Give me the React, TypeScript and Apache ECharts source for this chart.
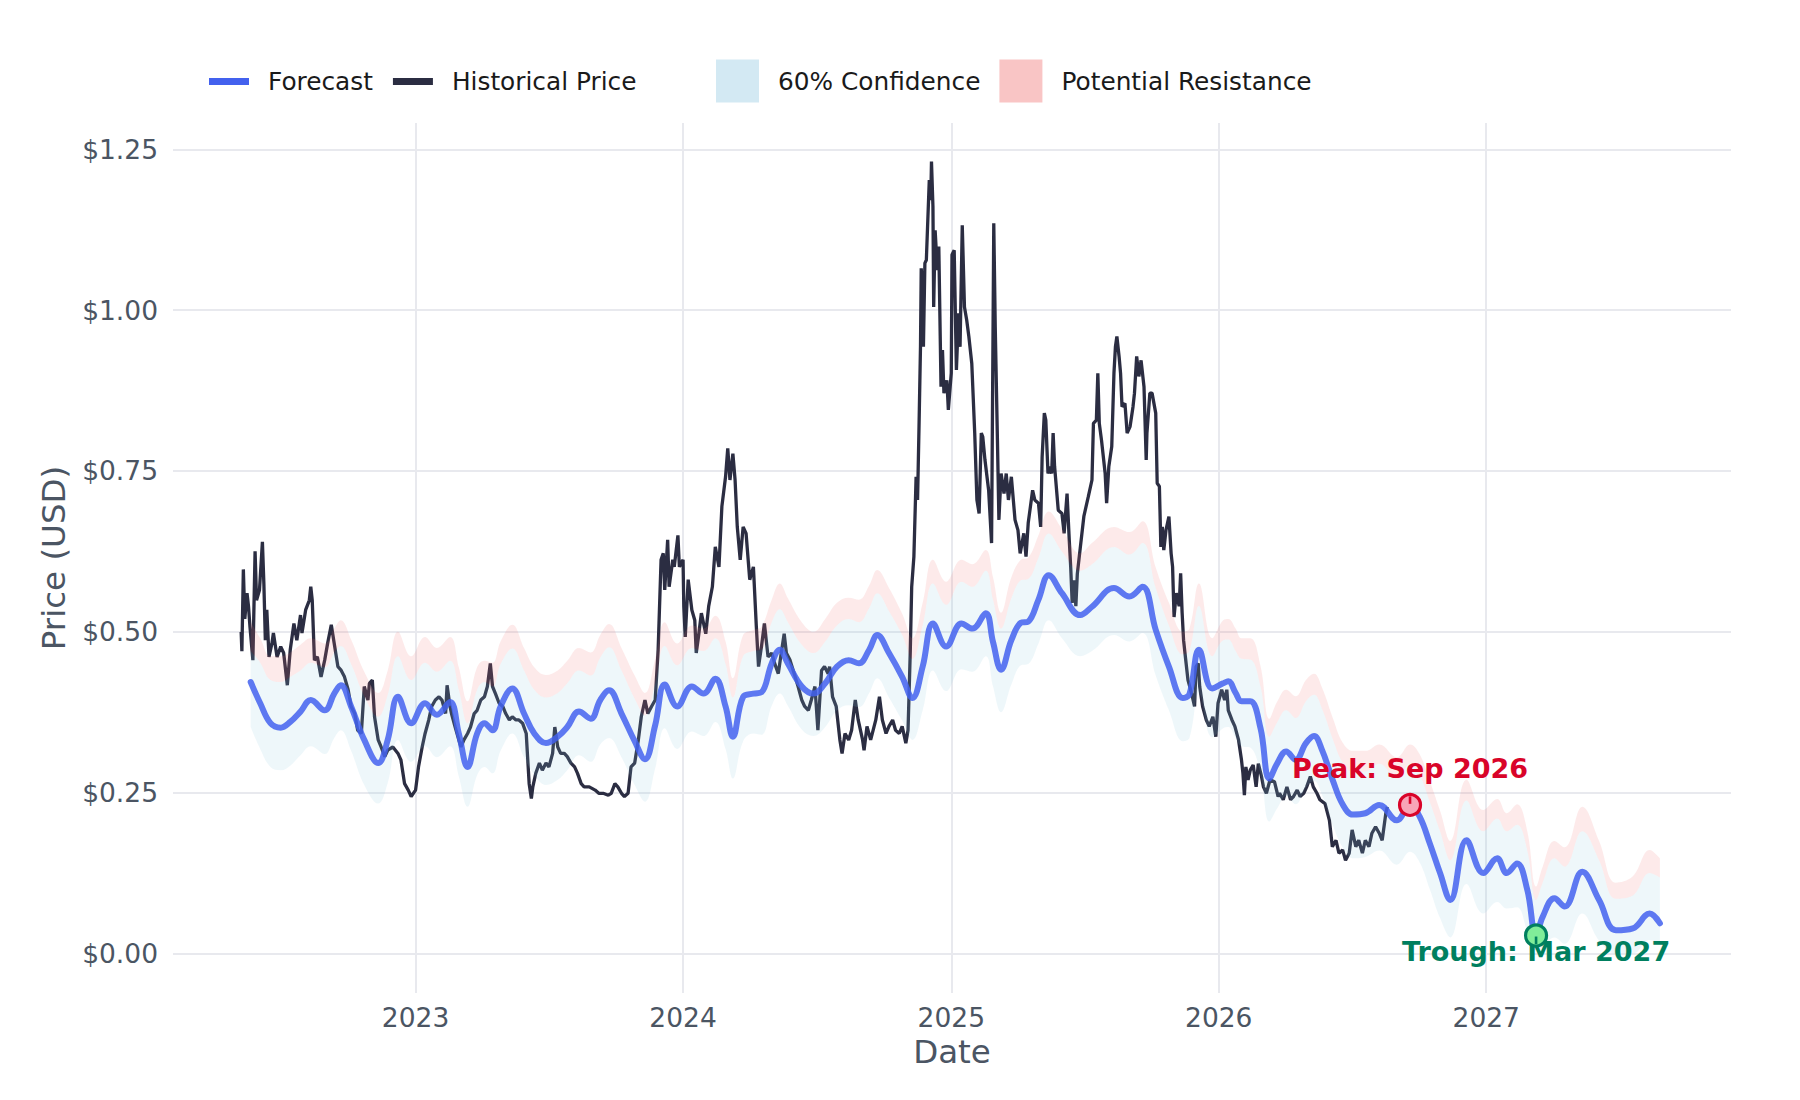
import React, { useEffect, useRef } from 'react';
import * as echarts from 'echarts';

const HISTORICAL: [string, number][] = [
  ['2022-05-08', 0.50], ['2022-05-09', 0.47], ['2022-05-11', 0.597], ['2022-05-13', 0.52], ['2022-05-16', 0.56],
  ['2022-05-18', 0.54], ['2022-05-20', 0.508], ['2022-05-24', 0.456], ['2022-05-27', 0.625], ['2022-05-29', 0.549],
  ['2022-06-02', 0.565], ['2022-06-06', 0.64], ['2022-06-08', 0.575], ['2022-06-10', 0.487], ['2022-06-12', 0.534],
  ['2022-06-15', 0.461], ['2022-06-19', 0.482], ['2022-06-21', 0.498], ['2022-06-26', 0.461], ['2022-07-01', 0.477],
  ['2022-07-05', 0.467], ['2022-07-10', 0.417], ['2022-07-14', 0.472], ['2022-07-19', 0.513], ['2022-07-23', 0.487],
  ['2022-07-28', 0.526], ['2022-07-30', 0.498], ['2022-08-04', 0.534], ['2022-08-09', 0.549], ['2022-08-11', 0.57],
  ['2022-08-13', 0.549], ['2022-08-16', 0.456], ['2022-08-20', 0.461], ['2022-08-25', 0.43], ['2022-08-30', 0.456],
  ['2022-09-03', 0.482], ['2022-09-08', 0.511], ['2022-09-12', 0.482], ['2022-09-17', 0.446], ['2022-09-21', 0.441],
  ['2022-09-26', 0.43], ['2022-10-01', 0.41], ['2022-10-05', 0.384], ['2022-10-10', 0.373], ['2022-10-14', 0.347],
  ['2022-10-19', 0.342], ['2022-10-23', 0.415], ['2022-10-28', 0.394], ['2022-10-30', 0.42], ['2022-11-03', 0.425],
  ['2022-11-06', 0.368], ['2022-11-11', 0.332], ['2022-11-15', 0.321], ['2022-11-20', 0.306], ['2022-11-24', 0.316],
  ['2022-12-01', 0.321], ['2022-12-08', 0.311], ['2022-12-12', 0.301], ['2022-12-17', 0.264], ['2022-12-22', 0.254],
  ['2022-12-26', 0.244], ['2023-01-01', 0.254], ['2023-01-05', 0.29], ['2023-01-10', 0.321], ['2023-01-14', 0.342],
  ['2023-01-19', 0.363], ['2023-01-23', 0.384], ['2023-01-28', 0.394], ['2023-02-02', 0.399], ['2023-02-06', 0.394],
  ['2023-02-11', 0.373], ['2023-02-13', 0.417], ['2023-02-17', 0.384], ['2023-02-19', 0.373], ['2023-02-24', 0.352],
  ['2023-03-01', 0.332], ['2023-03-04', 0.321], ['2023-03-08', 0.332], ['2023-03-13', 0.342], ['2023-03-17', 0.352],
  ['2023-03-22', 0.373], ['2023-03-26', 0.378], ['2023-03-31', 0.394], ['2023-04-05', 0.399], ['2023-04-09', 0.415],
  ['2023-04-13', 0.451], ['2023-04-16', 0.415], ['2023-04-20', 0.404], ['2023-04-25', 0.389], ['2023-04-30', 0.384],
  ['2023-05-04', 0.373], ['2023-05-09', 0.363], ['2023-05-13', 0.368], ['2023-05-18', 0.363], ['2023-05-22', 0.363],
  ['2023-05-27', 0.358], ['2023-06-01', 0.342], ['2023-06-05', 0.264], ['2023-06-08', 0.241], ['2023-06-10', 0.259],
  ['2023-06-14', 0.28], ['2023-06-19', 0.296], ['2023-06-23', 0.285], ['2023-06-28', 0.296], ['2023-07-02', 0.29],
  ['2023-07-07', 0.311], ['2023-07-10', 0.352], ['2023-07-14', 0.321], ['2023-07-18', 0.311], ['2023-07-23', 0.311],
  ['2023-07-27', 0.306], ['2023-08-01', 0.296], ['2023-08-06', 0.29], ['2023-08-10', 0.28], ['2023-08-15', 0.264],
  ['2023-08-19', 0.259], ['2023-08-26', 0.259], ['2023-09-03', 0.254], ['2023-09-08', 0.249], ['2023-09-14', 0.249],
  ['2023-09-21', 0.246], ['2023-09-25', 0.249], ['2023-09-30', 0.264], ['2023-10-04', 0.259], ['2023-10-09', 0.249],
  ['2023-10-13', 0.244], ['2023-10-18', 0.249], ['2023-10-22', 0.29], ['2023-10-27', 0.296], ['2023-11-01', 0.332],
  ['2023-11-05', 0.368], ['2023-11-10', 0.394], ['2023-11-14', 0.373], ['2023-11-19', 0.384], ['2023-11-24', 0.394],
  ['2023-11-28', 0.472], ['2023-12-02', 0.612], ['2023-12-05', 0.622], ['2023-12-07', 0.565], ['2023-12-11', 0.643],
  ['2023-12-13', 0.57], ['2023-12-18', 0.612], ['2023-12-20', 0.601], ['2023-12-25', 0.65], ['2023-12-27', 0.601],
  ['2024-01-01', 0.612], ['2024-01-02', 0.54], ['2024-01-04', 0.492], ['2024-01-08', 0.581], ['2024-01-13', 0.534],
  ['2024-01-17', 0.518], ['2024-01-19', 0.467], ['2024-01-22', 0.492], ['2024-01-26', 0.529], ['2024-02-01', 0.497],
  ['2024-02-05', 0.54], ['2024-02-10', 0.57], ['2024-02-14', 0.632], ['2024-02-19', 0.601], ['2024-02-23', 0.695],
  ['2024-02-28', 0.741], ['2024-03-02', 0.785], ['2024-03-05', 0.736], ['2024-03-09', 0.777], ['2024-03-12', 0.736],
  ['2024-03-15', 0.663], ['2024-03-19', 0.612], ['2024-03-23', 0.663], ['2024-03-27', 0.653], ['2024-04-01', 0.581],
  ['2024-04-06', 0.601], ['2024-04-10', 0.508], ['2024-04-13', 0.446], ['2024-04-17', 0.477], ['2024-04-21', 0.513],
  ['2024-04-26', 0.461], ['2024-05-01', 0.467], ['2024-05-05', 0.451], ['2024-05-10', 0.435], ['2024-05-14', 0.467],
  ['2024-05-18', 0.497], ['2024-05-21', 0.467], ['2024-05-26', 0.456], ['2024-06-02', 0.43], ['2024-06-06', 0.415],
  ['2024-06-11', 0.394], ['2024-06-15', 0.384], ['2024-06-20', 0.378], ['2024-06-24', 0.394], ['2024-06-29', 0.415],
  ['2024-07-03', 0.347], ['2024-07-08', 0.44], ['2024-07-12', 0.446], ['2024-07-17', 0.435], ['2024-07-19', 0.446],
  ['2024-07-23', 0.399], ['2024-07-28', 0.384], ['2024-08-02', 0.332], ['2024-08-05', 0.311], ['2024-08-09', 0.342],
  ['2024-08-14', 0.332], ['2024-08-18', 0.347], ['2024-08-23', 0.394], ['2024-08-27', 0.363], ['2024-09-02', 0.332],
  ['2024-09-04', 0.316], ['2024-09-08', 0.353], ['2024-09-13', 0.332], ['2024-09-20', 0.363], ['2024-09-25', 0.399],
  ['2024-09-29', 0.363], ['2024-10-04', 0.342], ['2024-10-08', 0.353], ['2024-10-13', 0.363], ['2024-10-17', 0.347],
  ['2024-10-22', 0.342], ['2024-10-26', 0.353], ['2024-10-31', 0.327], ['2024-11-03', 0.347], ['2024-11-06', 0.467],
  ['2024-11-08', 0.57], ['2024-11-11', 0.617], ['2024-11-14', 0.741], ['2024-11-16', 0.705], ['2024-11-18', 0.819],
  ['2024-11-20', 0.943], ['2024-11-21', 1.065], ['2024-11-23', 1.031], ['2024-11-24', 0.943], ['2024-11-26', 1.073],
  ['2024-11-28', 1.078], ['2024-12-02', 1.202], ['2024-12-04', 1.171], ['2024-12-05', 1.231], ['2024-12-07', 1.161],
  ['2024-12-08', 1.005], ['2024-12-10', 1.124], ['2024-12-13', 1.062], ['2024-12-15', 1.099], ['2024-12-17', 0.954],
  ['2024-12-18', 0.881], ['2024-12-20', 0.938], ['2024-12-22', 0.871], ['2024-12-26', 0.891], ['2024-12-28', 0.845],
  ['2025-01-01', 0.902], ['2025-01-02', 1.086], ['2025-01-05', 1.093], ['2025-01-08', 0.907], ['2025-01-11', 0.995],
  ['2025-01-13', 0.943], ['2025-01-16', 1.132], ['2025-01-19', 1.005], ['2025-01-22', 0.985], ['2025-01-25', 0.959],
  ['2025-01-29', 0.917], ['2025-02-02', 0.809], ['2025-02-05', 0.705], ['2025-02-08', 0.684], ['2025-02-11', 0.809],
  ['2025-02-13', 0.803], ['2025-02-16', 0.767], ['2025-02-21', 0.72], ['2025-02-25', 0.638], ['2025-02-28', 1.135],
  ['2025-03-02', 0.974], ['2025-03-05', 0.798], ['2025-03-07', 0.674], ['2025-03-10', 0.746], ['2025-03-14', 0.715],
  ['2025-03-17', 0.746], ['2025-03-20', 0.705], ['2025-03-24', 0.741], ['2025-03-29', 0.674], ['2025-04-02', 0.658],
  ['2025-04-05', 0.622], ['2025-04-10', 0.653], ['2025-04-13', 0.617], ['2025-04-16', 0.669], ['2025-04-22', 0.72],
  ['2025-04-25', 0.705], ['2025-04-30', 0.70], ['2025-05-03', 0.663], ['2025-05-05', 0.772], ['2025-05-08', 0.84],
  ['2025-05-10', 0.829], ['2025-05-13', 0.746], ['2025-05-15', 0.757], ['2025-05-18', 0.746], ['2025-05-20', 0.809],
  ['2025-05-22', 0.757], ['2025-05-27', 0.689], ['2025-06-01', 0.684], ['2025-06-04', 0.653], ['2025-06-08', 0.715],
  ['2025-06-11', 0.643], ['2025-06-13', 0.60], ['2025-06-15', 0.545], ['2025-06-18', 0.58], ['2025-06-20', 0.54],
  ['2025-06-22', 0.59], ['2025-06-26', 0.63], ['2025-07-01', 0.68], ['2025-07-07', 0.71], ['2025-07-12', 0.736],
  ['2025-07-14', 0.824], ['2025-07-18', 0.829], ['2025-07-20', 0.902], ['2025-07-22', 0.824], ['2025-07-25', 0.798],
  ['2025-07-30', 0.746], ['2025-08-01', 0.70], ['2025-08-04', 0.757], ['2025-08-08', 0.788], ['2025-08-11', 0.902],
  ['2025-08-13', 0.943], ['2025-08-15', 0.959], ['2025-08-18', 0.928], ['2025-08-20', 0.902], ['2025-08-22', 0.85],
  ['2025-08-26', 0.855], ['2025-08-29', 0.809], ['2025-09-02', 0.819], ['2025-09-06', 0.85], ['2025-09-08', 0.871],
  ['2025-09-11', 0.928], ['2025-09-14', 0.897], ['2025-09-17', 0.922], ['2025-09-21', 0.881], ['2025-09-24', 0.767],
  ['2025-09-25', 0.809], ['2025-09-29', 0.871], ['2025-10-02', 0.871], ['2025-10-07', 0.84], ['2025-10-09', 0.731],
  ['2025-10-12', 0.726], ['2025-10-14', 0.632], ['2025-10-16', 0.663], ['2025-10-18', 0.627], ['2025-10-21', 0.658],
  ['2025-10-25', 0.679], ['2025-10-28', 0.622], ['2025-10-30', 0.601], ['2025-11-01', 0.523], ['2025-11-04', 0.56],
  ['2025-11-08', 0.54], ['2025-11-10', 0.591], ['2025-11-12', 0.53], ['2025-11-14', 0.487], ['2025-11-16', 0.466],
  ['2025-11-20', 0.425], ['2025-11-25', 0.404], ['2025-11-29', 0.384], ['2025-12-01', 0.446], ['2025-12-04', 0.451],
  ['2025-12-06', 0.415], ['2025-12-10', 0.384], ['2025-12-15', 0.363], ['2025-12-19', 0.353], ['2025-12-24', 0.368],
  ['2025-12-28', 0.337], ['2025-12-31', 0.389], ['2026-01-05', 0.41], ['2026-01-09', 0.394], ['2026-01-12', 0.41],
  ['2026-01-14', 0.378], ['2026-01-19', 0.363], ['2026-01-23', 0.353], ['2026-01-28', 0.332], ['2026-02-01', 0.301],
  ['2026-02-03', 0.28], ['2026-02-05', 0.246], ['2026-02-07', 0.29], ['2026-02-10', 0.27], ['2026-02-13', 0.285],
  ['2026-02-17', 0.293], ['2026-02-21', 0.259], ['2026-02-24', 0.295], ['2026-02-28', 0.277], ['2026-03-03', 0.259],
  ['2026-03-07', 0.249], ['2026-03-12', 0.27], ['2026-03-18', 0.267], ['2026-03-23', 0.244], ['2026-03-25', 0.249],
  ['2026-03-30', 0.239], ['2026-04-04', 0.259], ['2026-04-09', 0.239], ['2026-04-13', 0.244], ['2026-04-18', 0.254],
  ['2026-04-22', 0.244], ['2026-04-27', 0.249], ['2026-05-01', 0.259], ['2026-05-06', 0.275], ['2026-05-10', 0.259],
  ['2026-05-15', 0.249], ['2026-05-19', 0.239], ['2026-05-26', 0.233], ['2026-06-01', 0.207], ['2026-06-05', 0.166],
  ['2026-06-10', 0.176], ['2026-06-14', 0.156], ['2026-06-19', 0.161], ['2026-06-23', 0.145], ['2026-06-28', 0.156],
  ['2026-07-02', 0.192], ['2026-07-07', 0.166], ['2026-07-11', 0.176], ['2026-07-16', 0.156], ['2026-07-20', 0.176],
  ['2026-07-25', 0.166], ['2026-07-29', 0.187], ['2026-08-03', 0.197], ['2026-08-08', 0.187], ['2026-08-12', 0.176],
  ['2026-08-17', 0.218], ['2026-08-19', 0.228],
];

const FORECAST_DATES: string[] = [
  '2022-05-21', '2022-06-03', '2022-06-17', '2022-07-01', '2022-07-14', '2022-07-28', '2022-08-11', '2022-08-30', '2022-09-12', '2022-09-21',
  '2022-10-05', '2022-10-23', '2022-11-11', '2022-11-24', '2022-12-08', '2022-12-26', '2023-01-14', '2023-01-30', '2023-02-17', '2023-03-01',
  '2023-03-13', '2023-03-26', '2023-04-05', '2023-04-16', '2023-04-27', '2023-05-13', '2023-05-29', '2023-06-12', '2023-06-28', '2023-07-14',
  '2023-07-27', '2023-08-12', '2023-08-28', '2023-09-10', '2023-09-22', '2023-10-09', '2023-10-27', '2023-11-10', '2023-11-24', '2023-12-07',
  '2023-12-24', '2024-01-13', '2024-01-29', '2024-02-14', '2024-02-28', '2024-03-09', '2024-03-23', '2024-04-06', '2024-04-17', '2024-05-01',
  '2024-05-12', '2024-05-23', '2024-06-11', '2024-06-27', '2024-07-13', '2024-07-29', '2024-08-14', '2024-08-28', '2024-09-11', '2024-09-22',
  '2024-10-08', '2024-10-26', '2024-11-09', '2024-11-23', '2024-12-07', '2024-12-25', '2025-01-15', '2025-01-30', '2025-02-17', '2025-02-27',
  '2025-03-10', '2025-03-24', '2025-04-06', '2025-04-16', '2025-04-30', '2025-05-14', '2025-06-01', '2025-06-26', '2025-07-12', '2025-08-11',
  '2025-09-01', '2025-09-19', '2025-10-07', '2025-10-25', '2025-11-13', '2025-11-22', '2025-12-05', '2025-12-23', '2026-01-07', '2026-01-14',
  '2026-01-24', '2026-02-01', '2026-02-13', '2026-02-27', '2026-03-11', '2026-03-22', '2026-04-03', '2026-04-16', '2026-04-30', '2026-05-11',
  '2026-05-22', '2026-06-06', '2026-06-19', '2026-07-03', '2026-07-20', '2026-08-08', '2026-09-01', '2026-09-19', '2026-10-02', '2026-10-16',
  '2026-10-30', '2026-11-13', '2026-12-05', '2026-12-28', '2027-01-16', '2027-01-29', '2027-02-12', '2027-02-26', '2027-03-10', '2027-03-19',
  '2027-04-04', '2027-04-18', '2027-05-12', '2027-06-04', '2027-06-27', '2027-07-20', '2027-08-12', '2027-08-26',
];

const FORECAST: number[] = [
  0.422, 0.389, 0.358, 0.351, 0.360, 0.376, 0.394, 0.378, 0.404, 0.417,
  0.384, 0.332, 0.296, 0.332, 0.399, 0.358, 0.389, 0.371, 0.391, 0.342,
  0.290, 0.342, 0.358, 0.347, 0.384, 0.412, 0.373, 0.342, 0.327, 0.337,
  0.352, 0.376, 0.365, 0.394, 0.409, 0.373, 0.330, 0.302, 0.355, 0.418,
  0.384, 0.415, 0.404, 0.427, 0.384, 0.337, 0.399, 0.404, 0.406, 0.451,
  0.472, 0.451, 0.415, 0.404, 0.420, 0.446, 0.456, 0.451, 0.472, 0.495,
  0.467, 0.430, 0.397, 0.446, 0.513, 0.477, 0.513, 0.505, 0.529, 0.484,
  0.441, 0.487, 0.514, 0.516, 0.550, 0.588, 0.560, 0.526, 0.539, 0.568,
  0.555, 0.570, 0.503, 0.446, 0.397, 0.403, 0.472, 0.412, 0.420, 0.423,
  0.405, 0.392, 0.392, 0.350, 0.272, 0.296, 0.314, 0.301, 0.327, 0.338,
  0.316, 0.268, 0.232, 0.216, 0.218, 0.231, 0.207, 0.231, 0.213, 0.171,
  0.125, 0.083, 0.176, 0.125, 0.148, 0.125, 0.140, 0.099, 0.028, 0.057,
  0.086, 0.073, 0.127, 0.083, 0.036, 0.039, 0.062, 0.047,
];

const CONF_UPPER: number[] = [
  0.470, 0.452, 0.425, 0.422, 0.430, 0.440, 0.452, 0.445, 0.468, 0.478,
  0.450, 0.400, 0.368, 0.402, 0.462, 0.425, 0.452, 0.438, 0.455, 0.410,
  0.358, 0.410, 0.422, 0.415, 0.450, 0.474, 0.440, 0.410, 0.398, 0.405,
  0.420, 0.440, 0.432, 0.460, 0.476, 0.440, 0.396, 0.370, 0.420, 0.478,
  0.448, 0.475, 0.470, 0.490, 0.450, 0.398, 0.462, 0.470, 0.472, 0.515,
  0.535, 0.515, 0.480, 0.467, 0.485, 0.510, 0.520, 0.515, 0.537, 0.560,
  0.532, 0.495, 0.458, 0.510, 0.575, 0.542, 0.578, 0.570, 0.595, 0.550,
  0.505, 0.552, 0.580, 0.582, 0.615, 0.653, 0.625, 0.595, 0.605, 0.632,
  0.620, 0.638, 0.568, 0.510, 0.465, 0.470, 0.540, 0.462, 0.487, 0.488,
  0.470, 0.458, 0.457, 0.415, 0.337, 0.360, 0.378, 0.366, 0.392, 0.402,
  0.380, 0.332, 0.297, 0.282, 0.283, 0.295, 0.272, 0.295, 0.278, 0.236,
  0.190, 0.145, 0.238, 0.190, 0.210, 0.190, 0.200, 0.160, 0.083, 0.110,
  0.148, 0.135, 0.190, 0.145, 0.085, 0.090, 0.125, 0.118,
];

const CONF_LOWER: number[] = [
  0.352, 0.318, 0.290, 0.285, 0.292, 0.308, 0.322, 0.310, 0.335, 0.347,
  0.315, 0.262, 0.233, 0.265, 0.332, 0.298, 0.322, 0.305, 0.322, 0.275,
  0.228, 0.277, 0.290, 0.280, 0.315, 0.342, 0.305, 0.278, 0.262, 0.270,
  0.285, 0.308, 0.298, 0.325, 0.335, 0.305, 0.262, 0.236, 0.288, 0.350,
  0.318, 0.345, 0.338, 0.360, 0.318, 0.272, 0.330, 0.342, 0.340, 0.385,
  0.404, 0.385, 0.348, 0.338, 0.352, 0.378, 0.386, 0.383, 0.405, 0.428,
  0.398, 0.362, 0.332, 0.378, 0.440, 0.408, 0.442, 0.438, 0.462, 0.415,
  0.375, 0.418, 0.448, 0.450, 0.482, 0.518, 0.490, 0.462, 0.470, 0.495,
  0.485, 0.498, 0.432, 0.378, 0.330, 0.335, 0.404, 0.336, 0.350, 0.352,
  0.335, 0.322, 0.320, 0.280, 0.205, 0.226, 0.245, 0.232, 0.258, 0.268,
  0.246, 0.198, 0.165, 0.148, 0.150, 0.160, 0.138, 0.158, 0.142, 0.100,
  0.055, 0.025, 0.108, 0.062, 0.080, 0.070, 0.072, 0.035, 0.005, 0.010,
  0.025, 0.015, 0.062, 0.020, 0.000, 0.000, 0.021, 0.015,
];

const RESIST_TOP: number[] = [
  0.515, 0.490, 0.462, 0.462, 0.468, 0.480, 0.490, 0.482, 0.505, 0.518,
  0.488, 0.438, 0.405, 0.440, 0.500, 0.462, 0.492, 0.475, 0.492, 0.445,
  0.392, 0.445, 0.455, 0.452, 0.485, 0.511, 0.475, 0.445, 0.433, 0.440,
  0.455, 0.475, 0.468, 0.495, 0.512, 0.475, 0.432, 0.405, 0.458, 0.515,
  0.482, 0.510, 0.505, 0.525, 0.485, 0.428, 0.495, 0.503, 0.508, 0.550,
  0.575, 0.552, 0.515, 0.500, 0.520, 0.545, 0.553, 0.550, 0.572, 0.596,
  0.568, 0.528, 0.490, 0.545, 0.612, 0.578, 0.612, 0.605, 0.627, 0.585,
  0.530, 0.585, 0.612, 0.615, 0.650, 0.687, 0.660, 0.622, 0.638, 0.663,
  0.655, 0.672, 0.600, 0.545, 0.500, 0.505, 0.575, 0.490, 0.518, 0.520,
  0.505, 0.490, 0.490, 0.447, 0.365, 0.392, 0.410, 0.400, 0.425, 0.435,
  0.413, 0.365, 0.328, 0.315, 0.315, 0.325, 0.305, 0.325, 0.310, 0.268,
  0.222, 0.175, 0.270, 0.223, 0.240, 0.218, 0.232, 0.190, 0.104, 0.135,
  0.175, 0.165, 0.228, 0.175, 0.110, 0.120, 0.161, 0.148,
];

const PEAK_POINT: [string, number] = ['2026-09-19', 0.231];
const TROUGH_POINT: [string, number] = ['2027-03-10', 0.028];
const PEAK_LABEL = 'Peak: Sep 2026';
const TROUGH_LABEL = 'Trough: Mar 2027';

const X_MIN = '2022-02-04';
const X_MAX = '2027-12-01';
const Y_MIN = 0;
const Y_MAX = 1.25;
const Y_STEP = 0.25;
const FRAME_Y_MIN = -0.0614;
const FRAME_Y_MAX = 1.291;

const LINE_LEGEND = ['Forecast', 'Historical Price'];
const BAND_LEGEND = ['60% Confidence', 'Potential Resistance'];

const FONT = 'DejaVu Sans';
const AXIS_GREY = '#4b5563';
const GRID_GREY = '#e8e9ee';

function zip(dates: string[], vals: number[]): [string, number][] {
  return dates.map((d, i) => [d, vals[i]]);
}

function buildOption(): any {
  const confBase = zip(FORECAST_DATES, CONF_LOWER);
  const confSpan = FORECAST_DATES.map((d, i) => [d, +(CONF_UPPER[i] - CONF_LOWER[i]).toFixed(4)]);
  const resBase = zip(FORECAST_DATES, CONF_UPPER);
  const resSpan = FORECAST_DATES.map((d, i) => [d, +(RESIST_TOP[i] - CONF_UPPER[i]).toFixed(4)]);
  const year = 365 * 24 * 3600 * 1000;

  return {
    animation: false,
    backgroundColor: '#ffffff',
    textStyle: { fontFamily: FONT },
    legend: [
      {
        data: [
          { name: LINE_LEGEND[0], itemStyle: { color: '#4361ee' } },
          { name: LINE_LEGEND[1], itemStyle: { color: '#2b2d42' } },
        ],
        left: 209,
        top: 69,
        padding: 0,
        icon: 'rect',
        itemWidth: 40,
        itemHeight: 7,
        itemGap: 20,
        selectedMode: false,
        textStyle: { fontSize: 24.8, color: '#1a1a1a', fontFamily: FONT, padding: [0, 0, 0, 14] },
      },
      {
        data: [
          { name: BAND_LEGEND[0], itemStyle: { color: '#d3e9f3' } },
          { name: BAND_LEGEND[1], itemStyle: { color: '#f9c5c5' } },
        ],
        left: 716,
        top: 59.5,
        padding: 0,
        icon: 'rect',
        itemWidth: 43,
        itemHeight: 43,
        itemGap: 19,
        selectedMode: false,
        textStyle: { fontSize: 24.8, color: '#1a1a1a', fontFamily: FONT, padding: [0, 0, 0, 14] },
      },
    ],
    grid: [
      { left: 173, right: 69, top: 149.3, bottom: 146.5, containLabel: false },
      { left: 173, right: 69, top: 123, bottom: 107, containLabel: false },
    ],
    xAxis: [
      { type: 'time', gridIndex: 0, min: X_MIN, max: X_MAX, show: false },
      {
        type: 'time',
        gridIndex: 1,
        min: X_MIN,
        max: X_MAX,
        minInterval: year,
        maxInterval: year + 2 * 24 * 3600 * 1000,
        axisLine: { show: false },
        axisTick: { show: false },
        axisLabel: {
          fontSize: 26.5,
          color: AXIS_GREY,
          fontFamily: FONT,
          margin: 11,
          showMinLabel: false,
          showMaxLabel: false,
          formatter: '{yyyy}',
        },
        splitLine: { show: true, showMinLine: false, showMaxLine: false, lineStyle: { color: GRID_GREY, width: 2 } },
        name: 'Date',
        nameLocation: 'middle',
        nameGap: 42,
        nameMoveOverlap: false,
        nameTextStyle: { fontSize: 32.5, color: AXIS_GREY, fontFamily: FONT },
      },
    ],
    yAxis: [
      {
        type: 'value',
        gridIndex: 0,
        min: Y_MIN,
        max: Y_MAX,
        interval: Y_STEP,
        axisLine: { show: false },
        axisTick: { show: false },
        axisLabel: {
          fontSize: 26.5,
          color: AXIS_GREY,
          fontFamily: FONT,
          margin: 15,
          formatter: (v: number) => '$' + v.toFixed(2),
        },
        splitLine: { show: true, lineStyle: { color: GRID_GREY, width: 2 } },
      },
      {
        type: 'value',
        gridIndex: 1,
        min: FRAME_Y_MIN,
        max: FRAME_Y_MAX,
        axisLine: { show: false },
        axisTick: { show: false },
        axisLabel: { show: false },
        splitLine: { show: false },
        name: 'Price (USD)',
        nameLocation: 'middle',
        nameGap: 103,
        nameMoveOverlap: false,
        nameTextStyle: { fontSize: 32.5, color: AXIS_GREY, fontFamily: FONT },
      },
    ],
    series: [
      {
        name: LINE_LEGEND[1],
        type: 'line',
        xAxisIndex: 0,
        yAxisIndex: 0,
        data: HISTORICAL,
        symbol: 'none',
        color: '#2b2d42',
        lineStyle: { color: '#2b2d42', width: 3.3 },
        z: 2,
        silent: true,
      },
      {
        name: 'conf-base',
        type: 'line',
        stack: 'conf',
        data: confBase,
        symbol: 'none',
        smooth: 0.4,
        lineStyle: { opacity: 0, width: 0 },
        z: 3,
        silent: true,
      },
      {
        name: BAND_LEGEND[0],
        type: 'line',
        stack: 'conf',
        data: confSpan,
        symbol: 'none',
        smooth: 0.4,
        color: '#d3e9f3',
        lineStyle: { opacity: 0, width: 0 },
        areaStyle: { color: '#90c8e0', opacity: 0.15 },
        z: 3,
        silent: true,
      },
      {
        name: 'res-base',
        type: 'line',
        stack: 'res',
        data: resBase,
        symbol: 'none',
        smooth: 0.4,
        lineStyle: { opacity: 0, width: 0 },
        z: 3,
        silent: true,
      },
      {
        name: BAND_LEGEND[1],
        type: 'line',
        stack: 'res',
        data: resSpan,
        symbol: 'none',
        smooth: 0.4,
        color: '#f9c5c5',
        lineStyle: { opacity: 0, width: 0 },
        areaStyle: { color: '#ef6f6f', opacity: 0.15 },
        z: 3,
        silent: true,
      },
      {
        name: LINE_LEGEND[0],
        type: 'line',
        data: zip(FORECAST_DATES, FORECAST),
        symbol: 'none',
        smooth: 0.4,
        color: '#4361ee',
        lineStyle: { color: '#4361ee', width: 6, opacity: 0.85, cap: 'round', join: 'round' },
        z: 5,
        silent: true,
      },
      {
        name: 'peak-label',
        type: 'scatter',
        data: [PEAK_POINT],
        symbolSize: 1,
        itemStyle: { color: 'rgba(0,0,0,0)', opacity: 1 },
        label: {
          show: true,
          position: 'inside',
          offset: [0, -36],
          formatter: PEAK_LABEL,
          fontSize: 27,
          fontWeight: 'bold',
          fontFamily: FONT,
          color: '#d90429',
          opacity: 1,
        },
        z: 6,
        silent: true,
      },
      {
        name: 'trough-label',
        type: 'scatter',
        data: [TROUGH_POINT],
        symbolSize: 1,
        itemStyle: { color: 'rgba(0,0,0,0)', opacity: 1 },
        label: {
          show: true,
          position: 'inside',
          offset: [0, 16],
          formatter: TROUGH_LABEL,
          fontSize: 27,
          fontWeight: 'bold',
          fontFamily: FONT,
          color: '#007f5f',
          opacity: 1,
        },
        z: 6,
        silent: true,
      },
      {
        name: 'peak-marker',
        type: 'scatter',
        data: [PEAK_POINT],
        symbol: 'circle',
        symbolSize: 21,
        itemStyle: { color: '#f8a5b8', borderColor: '#d90429', borderWidth: 3.2, opacity: 1 },
        z: 7,
        silent: true,
      },
      {
        name: 'trough-marker',
        type: 'scatter',
        data: [TROUGH_POINT],
        symbol: 'circle',
        symbolSize: 21,
        itemStyle: { color: '#80ed99', borderColor: '#007f5f', borderWidth: 3.2, opacity: 1 },
        z: 7,
        silent: true,
      },
      {
        name: 'peak-tick',
        type: 'scatter',
        data: [PEAK_POINT],
        symbol: 'rect',
        symbolSize: [2.6, 7.5],
        symbolOffset: [0, -4.8],
        itemStyle: { color: '#d90429', opacity: 1 },
        z: 8,
        silent: true,
      },
      {
        name: 'trough-tick',
        type: 'scatter',
        data: [TROUGH_POINT],
        symbol: 'rect',
        symbolSize: [2.6, 7.5],
        symbolOffset: [0, 4.8],
        itemStyle: { color: '#007f5f', opacity: 1 },
        z: 8,
        silent: true,
      },
    ],
  };
}

export default function App() {
  const ref = useRef<HTMLDivElement>(null);
  useEffect(() => {
    document.body.style.margin = '0';
    const chart = echarts.init(ref.current as HTMLDivElement, null, { renderer: 'svg' });
    chart.setOption(buildOption());
    return () => chart.dispose();
  }, []);
  return (
    <div
      ref={ref}
      style={{ position: 'absolute', left: 0, top: 0, width: 1800, height: 1100, background: '#ffffff' }}
    />
  );
}
